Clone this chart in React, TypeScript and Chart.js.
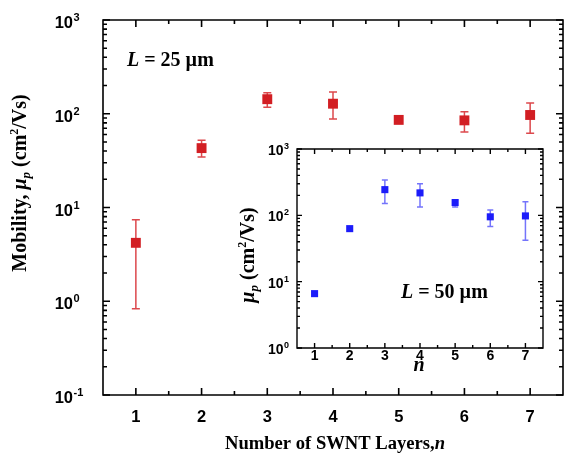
import React, { useEffect, useRef } from 'react';
import { Chart, registerables } from 'chart.js';

Chart.register(...registerables);

// ---- data ----
const layers = [1, 2, 3, 4, 5, 6, 7];
const xTickValues = [1, 2, 3, 4, 5, 6, 7];

// L = 25 um (main)
const mobility25 = [4.2, 43, 143, 128, 86, 85, 97];
const mobility25Low = [0.83, 34.6, 117, 88, 86, 64, 62];
const mobility25High = [7.4, 52, 168, 171, 86, 105, 130];

// L = 50 um (inset)
const mobility50 = [6.6, 63, 244, 218, 156, 95, 98];
const mobility50Low = [6.6, 63, 151, 134, 133, 68, 42];
const mobility50High = [6.6, 63, 342, 300, 169, 120, 160];

const mainYExponents = [-1, 0, 1, 2, 3];
const insetYExponents = [0, 1, 2, 3];

const RED = 'rgb(210,30,35)';
const RED_ERR = 'rgba(214,40,45,0.85)';
const BLUE = 'rgb(28,28,250)';
const BLUE_ERR = 'rgba(70,70,250,0.75)';

const SANS = '"Liberation Sans", Arial, sans-serif';
const SERIF = '"Liberation Serif", "Times New Roman", serif';

type Seg = { text: string; font: string; dy?: number };

function drawSegs(
  ctx: CanvasRenderingContext2D,
  segs: Seg[],
  x: number,
  y: number,
  align: 'left' | 'center' | 'right',
  rotate = 0
) {
  ctx.save();
  ctx.translate(x, y);
  if (rotate) ctx.rotate(rotate);
  ctx.textBaseline = 'alphabetic';
  ctx.textAlign = 'left';
  ctx.fillStyle = '#000';
  let total = 0;
  const widths = segs.map((s) => {
    ctx.font = s.font;
    const w = ctx.measureText(s.text).width;
    total += w;
    return w;
  });
  let cx = align === 'left' ? 0 : align === 'center' ? -total / 2 : -total;
  segs.forEach((s, i) => {
    ctx.font = s.font;
    ctx.fillText(s.text, cx, s.dy || 0);
    cx += widths[i];
  });
  ctx.restore();
}

type Style = {
  lw: number;
  major: number;
  minor: number;
  yExps: number[];
  tickFont: number;
  supFont: number;
  yLabelRight: number;
  yBaseOff: number;
  ySupOff: number;
  xBaseline: number;
};

function makeFramePlugin(st: Style) {
  return {
    id: 'frameTicks',
    afterDraw(chart: any) {
      const ctx: CanvasRenderingContext2D = chart.ctx;
      const { left, right, top, bottom } = chart.chartArea;
      const xs = chart.scales.x;
      const ys = chart.scales.y;
      ctx.save();
      ctx.strokeStyle = '#000';
      ctx.lineWidth = st.lw;
      ctx.beginPath();
      ctx.rect(left, top, right - left, bottom - top);
      ctx.stroke();
      ctx.beginPath();
      for (const v of xTickValues) {
        const px = xs.getPixelForValue(v);
        ctx.moveTo(px, bottom);
        ctx.lineTo(px, bottom - st.major);
        ctx.moveTo(px, top);
        ctx.lineTo(px, top + st.major);
        const m = xs.getPixelForValue(v + 0.5);
        if (v + 0.5 < xs.max) {
          ctx.moveTo(m, bottom);
          ctx.lineTo(m, bottom - st.minor);
          ctx.moveTo(m, top);
          ctx.lineTo(m, top + st.minor);
        }
      }
      const exps = st.yExps;
      for (let i = 0; i < exps.length; i++) {
        const e = exps[i];
        const py = ys.getPixelForValue(Math.pow(10, e));
        ctx.moveTo(left, py);
        ctx.lineTo(left + st.major, py);
        ctx.moveTo(right, py);
        ctx.lineTo(right - st.major, py);
        if (i < exps.length - 1) {
          for (let k = 2; k <= 9; k++) {
            const pm = ys.getPixelForValue(k * Math.pow(10, e));
            ctx.moveTo(left, pm);
            ctx.lineTo(left + st.minor, pm);
            ctx.moveTo(right, pm);
            ctx.lineTo(right - st.minor, pm);
          }
        }
      }
      ctx.stroke();
      ctx.restore();

      for (const v of xTickValues) {
        const px = xs.getPixelForValue(v);
        drawSegs(ctx, [{ text: String(v), font: `bold ${st.tickFont}px ${SANS}` }], px, st.xBaseline, 'center');
      }
      for (const e of exps) {
        const py = ys.getPixelForValue(Math.pow(10, e));
        drawSegs(ctx, [{ text: '10', font: `bold ${st.tickFont}px ${SANS}` }], st.yLabelRight, py + st.yBaseOff, 'right');
        drawSegs(
          ctx,
          [{ text: e < 0 ? '-' + String(-e) : String(e), font: `bold ${st.supFont}px ${SANS}` }],
          st.yLabelRight + 0.5,
          py + st.ySupOff,
          'left'
        );
      }
    },
  };
}

function makeErrorPlugin(low: number[], high: number[], color: string, cap: number, lw: number) {
  return {
    id: 'errorBars',
    beforeDatasetsDraw(chart: any) {
      const ctx: CanvasRenderingContext2D = chart.ctx;
      const xs = chart.scales.x;
      const ys = chart.scales.y;
      ctx.save();
      ctx.strokeStyle = color;
      ctx.lineWidth = lw;
      ctx.beginPath();
      layers.forEach((x, i) => {
        if (high[i] === low[i]) return;
        const px = xs.getPixelForValue(x);
        const pl = ys.getPixelForValue(low[i]);
        const ph = ys.getPixelForValue(high[i]);
        ctx.moveTo(px, pl);
        ctx.lineTo(px, ph);
        ctx.moveTo(px - cap, ph);
        ctx.lineTo(px + cap, ph);
        ctx.moveTo(px - cap, pl);
        ctx.lineTo(px + cap, pl);
      });
      ctx.stroke();
      ctx.restore();
    },
  };
}

function makeTextPlugin(draw: (ctx: CanvasRenderingContext2D) => void) {
  return {
    id: 'texts',
    afterDraw(chart: any) {
      draw(chart.ctx);
    },
  };
}

export default function App() {
  const mainRef = useRef<HTMLCanvasElement>(null);
  const insetRef = useRef<HTMLCanvasElement>(null);

  useEffect(() => {
    const mainChart = new Chart(mainRef.current as HTMLCanvasElement, {
      type: 'scatter',
      data: {
        datasets: [
          {
            data: layers.map((x, i) => ({ x, y: mobility25[i] })),
            pointStyle: 'rect',
            pointRadius: 7,
            backgroundColor: RED,
            borderColor: RED,
            borderWidth: 0,
          },
        ],
      },
      options: {
        responsive: false,
        animation: false,
        devicePixelRatio: 1,
        layout: { autoPadding: false, padding: { left: 103, right: 1, top: 20, bottom: 64 } },
        scales: {
          x: { type: 'linear', min: 0.5, max: 7.5, display: false },
          y: { type: 'logarithmic', min: 0.1, max: 1000, display: false },
        },
        plugins: { legend: { display: false }, tooltip: { enabled: false } },
      } as any,
      plugins: [
        makeErrorPlugin(mobility25Low, mobility25High, RED_ERR, 4, 1.5),
        makeFramePlugin({
          lw: 1.6,
          major: 7,
          minor: 4,
          yExps: mainYExponents,
          tickFont: 16.5,
          supFont: 11,
          yLabelRight: 73,
          yBaseOff: 8,
          ySupOff: 1,
          xBaseline: 421.5,
        }),
        makeTextPlugin((ctx) => {
          drawSegs(
            ctx,
            [
              { text: 'L', font: `italic bold 20px ${SERIF}` },
              { text: ' = 25 \u00b5m', font: `bold 20px ${SERIF}` },
            ],
            127,
            66,
            'left'
          );
          drawSegs(
            ctx,
            [
              { text: 'Number of SWNT Layers,', font: `bold 18.6px ${SERIF}` },
              { text: 'n', font: `italic bold 18.6px ${SERIF}` },
            ],
            335,
            449,
            'center'
          );
          drawSegs(
            ctx,
            [
              { text: 'Mobility, ', font: `bold 20px ${SERIF}` },
              { text: '\u03bc', font: `italic bold 20px ${SERIF}` },
              { text: 'p', font: `italic bold 13px ${SERIF}`, dy: 4 },
              { text: ' (cm', font: `bold 20px ${SERIF}` },
              { text: '2', font: `bold 12px ${SERIF}`, dy: -8 },
              { text: '/Vs)', font: `bold 20px ${SERIF}` },
            ],
            26,
            183,
            'center',
            -Math.PI / 2
          );
        }),
      ],
    } as any);

    const insetChart = new Chart(insetRef.current as HTMLCanvasElement, {
      type: 'scatter',
      data: {
        datasets: [
          {
            data: layers.map((x, i) => ({ x, y: mobility50[i] })),
            pointStyle: 'rect',
            pointRadius: 5,
            backgroundColor: BLUE,
            borderColor: BLUE,
            borderWidth: 0,
          },
        ],
      },
      options: {
        responsive: false,
        animation: false,
        devicePixelRatio: 1,
        layout: { autoPadding: false, padding: { left: 67, right: 17, top: 19, bottom: 32 } },
        scales: {
          x: { type: 'linear', min: 0.5, max: 7.5, display: false },
          y: { type: 'logarithmic', min: 1, max: 1000, display: false },
        },
        plugins: { legend: { display: false }, tooltip: { enabled: false } },
      } as any,
      plugins: [
        makeErrorPlugin(mobility50Low, mobility50High, BLUE_ERR, 3, 1.5),
        makeFramePlugin({
          lw: 1.4,
          major: 5,
          minor: 3,
          yExps: insetYExponents,
          tickFont: 14,
          supFont: 9,
          yLabelRight: 53.5,
          yBaseOff: 6,
          ySupOff: 0,
          xBaseline: 230,
        }),
        makeTextPlugin((ctx) => {
          drawSegs(
            ctx,
            [
              { text: 'L', font: `italic bold 20px ${SERIF}` },
              { text: ' = 50 \u00b5m', font: `bold 20px ${SERIF}` },
            ],
            171,
            168,
            'left'
          );
          drawSegs(ctx, [{ text: 'n', font: `italic bold 20px ${SERIF}` }], 189, 241, 'center');
          drawSegs(
            ctx,
            [
              { text: '\u03bc', font: `italic bold 20px ${SERIF}` },
              { text: 'p', font: `italic bold 13px ${SERIF}`, dy: 4 },
              { text: ' (cm', font: `bold 20px ${SERIF}` },
              { text: '2', font: `bold 12px ${SERIF}`, dy: -8 },
              { text: '/Vs)', font: `bold 20px ${SERIF}` },
            ],
            24,
            125,
            'center',
            -Math.PI / 2
          );
        }),
      ],
    } as any);

    return () => {
      mainChart.destroy();
      insetChart.destroy();
    };
  }, []);

  return (
    <div style={{ position: 'fixed', left: 0, top: 0, width: 564, height: 459, background: '#fff' }}>
      <canvas ref={mainRef} width={564} height={459} style={{ position: 'absolute', left: 0, top: 0, display: 'block' }} />
      <canvas ref={insetRef} width={330} height={250} style={{ position: 'absolute', left: 230, top: 130, display: 'block' }} />
    </div>
  );
}
